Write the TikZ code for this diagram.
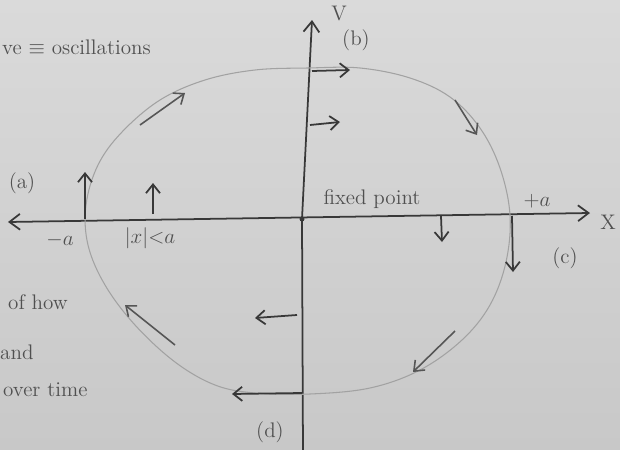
\documentclass[tikz,border=0pt]{standalone}
\usepackage{amsmath,amssymb}
\usepackage{xcolor}
\usetikzlibrary{arrows.meta, calc, backgrounds}
\definecolor{paper}{HTML}{DADADA}
\definecolor{paperdk}{HTML}{C8C8C8}
\definecolor{pencil}{HTML}{383838}
\definecolor{faint}{HTML}{A2A2A2}
\definecolor{lead}{HTML}{505050}

\begin{document}
\begin{tikzpicture}[
  x=0.02cm, y=-0.02cm,
  every node/.style={font=\large, text=lead},
  axis/.style={draw=pencil, line width=1pt},
  tip/.style={-{Straight Barb[length=6pt,width=9pt]}},
  orbit/.style={draw=faint, line width=0.6pt},
  flow/.style={draw=pencil!85, line width=0.9pt, -{Straight Barb[length=5pt,width=8pt]}},
  vec/.style={draw=pencil, line width=1pt, -{Straight Barb[length=5pt,width=8pt]}},
  note/.style={anchor=west}
]
\useasboundingbox (0,0) rectangle (620,450);
\shade[top color=paper, bottom color=paperdk] (0,0) rectangle (620,450);

%% axes
\coordinate (xl) at (8,222);
\coordinate (xr) at (590,213);
\coordinate (vb) at (303,455);
\coordinate (vt) at (312,20);
\coordinate (O)  at (302,219);
\draw[axis, {Straight Barb[length=6pt,width=9pt]}-{Straight Barb[length=6pt,width=9pt]}] (xl) -- (xr);
\draw[axis, tip] (vb) -- (O) -- (vt);
\fill[pencil] (O) circle (2.5);

%% closed orbit
\draw[orbit] plot[smooth cycle, tension=0.6] coordinates {
  (308,68) (360,68) (410,78) (450,97) (480,128) (500,168) (510,215)
  (506,262) (490,305) (462,340) (420,370) (370,388) (310,394)
  (255,393) (215,385) (175,362) (135,325) (105,285) (88,245)
  (86,205) (98,165) (122,132) (160,100) (205,80) (255,70)};

%% direction along the orbit
\coordinate (f1a) at (140,125); \coordinate (f1b) at (185,93);
\coordinate (f2a) at (455,100); \coordinate (f2b) at (477,135);
\coordinate (f3a) at (455,331); \coordinate (f3b) at (413,372);
\coordinate (f4a) at (175,345); \coordinate (f4b) at (125,305);
\foreach \i in {1,2,3,4}
  \draw[flow] (f\i a) -- (f\i b);

%% velocity vectors
\coordinate (pa)  at (85,219);   \coordinate (pa')  at (85,172);
\coordinate (pin) at (153,214);  \coordinate (pin') at (153,183);
\coordinate (pb)  at (312,71);   \coordinate (pb')  at (350,70);
\coordinate (pv)  at (310,125);  \coordinate (pv')  at (340,122);
\coordinate (pc)  at (512,216);  \coordinate (pc')  at (513,272);
\coordinate (px)  at (441,216);  \coordinate (px')  at (442,242);
\coordinate (pd)  at (302,393);  \coordinate (pd')  at (232,394);
\coordinate (pw)  at (297,315);  \coordinate (pw')  at (255,318);
\foreach \a in {pa,pin,pb,pv,pc,px,pd,pw}
  \draw[vec] (\a) -- (\a');

%% labels
\node (lV)   at (339,14)  {V};
\node (lb)   at (356,40)  {(b)};
\node (lX)   at (608,222) {X};
\node (la)   at (22,183)  {(a)};
\node (lma)  at (60,240)  {$-a$};
\node (lin)  at (150,238) {$|x|{<}a$};
\node (lfix) at (372,199) {fixed point};
\node (lpa)  at (537,201) {$+a$};
\node (lc)   at (565,258) {(c)};
\node (ld)   at (270,432) {(d)};

%% notes cut off at the left edge
\node[note] (n1) at (-4,47)  {ve $\equiv$ oscillations};
\node[note] (n2) at (2,302)  {of how};
\node[note] (n3) at (-6,352) {and};
\node[note] (n4) at (-3,390) {over time};
\end{tikzpicture}
\end{document}
